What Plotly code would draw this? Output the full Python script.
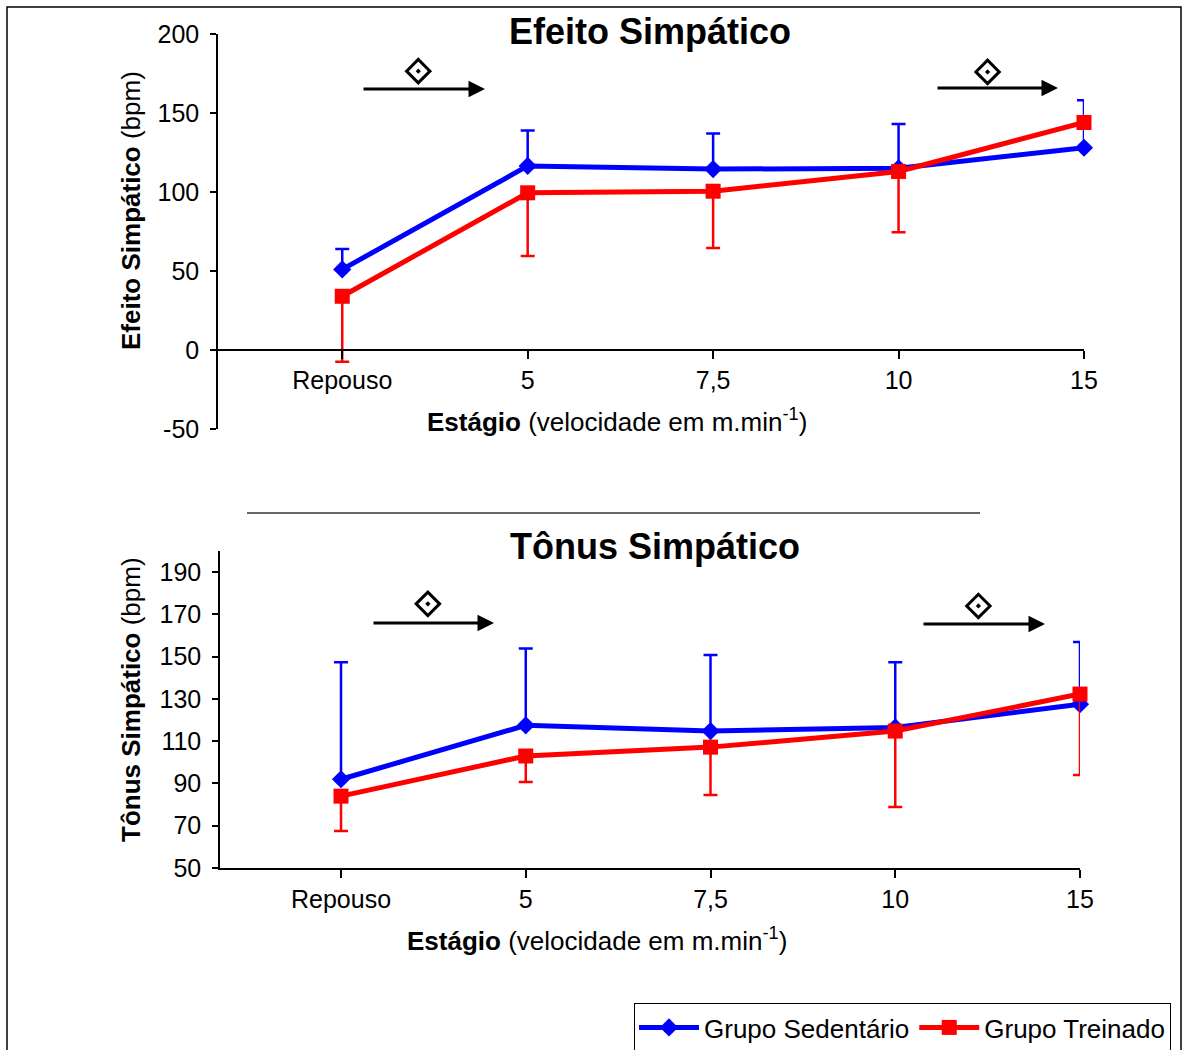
import plotly.graph_objects as go

# ---------------- data ----------------
stages = ["Repouso", "5", "7,5", "10", "15"]
stage_pos = [0, 1, 2, 3, 4]

efeito_sed = [51, 116.5, 114.5, 115, 128]
efeito_sed_err = [13, 22.5, 22.5, 28, 30]
efeito_tre = [34, 99.5, 100.5, 113, 144]
efeito_tre_err = [41.5, 40, 36, 38.5, 0]

tonus_sed = [92, 117.5, 114.8, 116.5, 127.5]
tonus_sed_err = [55.3, 36.4, 36, 30.8, 29.4]
tonus_tre = [84, 103, 107.2, 114.8, 132.3]
tonus_tre_err = [16.5, 12.3, 22.7, 35.9, 38.3]

efeito_ticks = [-50, 0, 50, 100, 150, 200]
efeito_ticktext = ["-50", "0", "50", "100", "150", "200"]
tonus_ticks = [50, 70, 90, 110, 130, 150, 170, 190]

names = ["Grupo Sedentário", "Grupo Treinado"]
BLUE = "#0000FF"
RED = "#FF0000"
FONT = "Liberation Sans, Arial, sans-serif"

W, H = 1184, 1050


def px_x(p):
    return p / W


def px_y(p):
    return (H - p) / H


fig = go.Figure()


def add_series(xa, ya, sed, sed_err, tre, tre_err, show):
    zeros = [0] * len(sed)
    fig.add_trace(go.Scatter(
        x=stage_pos, y=sed, xaxis=xa, yaxis=ya, name=names[0],
        mode="lines+markers", showlegend=show, legendgroup="sed",
        line=dict(color=BLUE, width=5),
        marker=dict(symbol="diamond", size=14, color=BLUE),
        error_y=dict(type="data", symmetric=False, array=sed_err,
                     arrayminus=zeros, color=BLUE, thickness=2.5, width=7),
        cliponaxis=False, hoverinfo="skip"))
    fig.add_trace(go.Scatter(
        x=stage_pos, y=tre, xaxis=xa, yaxis=ya, name=names[1],
        mode="lines+markers", showlegend=show, legendgroup="tre",
        line=dict(color=RED, width=5),
        marker=dict(symbol="square", size=15, color=RED),
        error_y=dict(type="data", symmetric=False, array=zeros,
                     arrayminus=tre_err, color=RED, thickness=2.5, width=7),
        cliponaxis=False, hoverinfo="skip"))


add_series("x", "y", efeito_sed, efeito_sed_err, efeito_tre, efeito_tre_err, True)
add_series("x2", "y2", tonus_sed, tonus_sed_err, tonus_tre, tonus_tre_err, False)

# significance marks placed in each panel's data units
sig_top = dict(x=[0.41, 3.48], y=[176.5, 176])
sig_bot = dict(x=[0.47, 3.45], y=[175, 174])
for xa, ya, s in (("x", "y", sig_top), ("x2", "y2", sig_bot)):
    fig.add_trace(go.Scatter(
        x=s["x"], y=s["y"], xaxis=xa, yaxis=ya, mode="markers",
        showlegend=False, hoverinfo="skip", cliponaxis=False,
        marker=dict(symbol="diamond-open-dot", size=18, color="black",
                    line=dict(color="black", width=3))))

axis_common = dict(showgrid=False, zeroline=False, showline=True,
                   linecolor="black", linewidth=1.5, ticks="outside",
                   tickcolor="black", tickwidth=1.5, automargin=False,
                   tickfont=dict(family=FONT, size=25, color="black"))

fig.update_layout(
    width=W, height=H,
    margin=dict(l=0, r=0, t=0, b=0, autoexpand=False),
    paper_bgcolor="white", plot_bgcolor="white",
    font=dict(family=FONT, color="black"),
    xaxis=dict(domain=[px_x(218), px_x(1084)], range=[-0.67, 4],
               anchor="free", position=px_y(350),
               tickvals=stage_pos, ticktext=stages, ticklen=8,
               **axis_common),
    yaxis=dict(domain=[px_y(429), px_y(34)], range=[-50, 200],
               anchor="x", tickvals=efeito_ticks, ticktext=efeito_ticktext,
               ticklen=6, ticklabelstandoff=6, **axis_common),
    xaxis2=dict(domain=[px_x(220), px_x(1080)], range=[-0.655, 4],
                anchor="y2", tickvals=stage_pos, ticktext=stages, ticklen=8,
                **axis_common),
    yaxis2=dict(domain=[px_y(868), px_y(551)], range=[50, 200],
                anchor="x2", tickvals=tonus_ticks, ticklen=6,
                ticklabelstandoff=6, **axis_common),
    legend=dict(orientation="h", x=px_x(1171), xanchor="right",
                y=px_y(1003), yanchor="top",
                bordercolor="black", borderwidth=1, bgcolor="white",
                font=dict(family=FONT, size=26, color="black"),
                itemwidth=60, tracegroupgap=0),
)

anns = []
# titles
anns.append(dict(text="<b>Efeito Simpático</b>", x=px_x(650), y=px_y(32),
                 font=dict(size=36)))
anns.append(dict(text="<b>Tônus Simpático</b>", x=px_x(655), y=px_y(546),
                 font=dict(size=36)))
# y-axis titles
anns.append(dict(text="<b>Efeito Simpático</b> (bpm)", x=px_x(131), y=px_y(211),
                 textangle=-90, font=dict(size=26)))
anns.append(dict(text="<b>Tônus Simpático</b> (bpm)", x=px_x(131), y=px_y(700),
                 textangle=-90, font=dict(size=26)))
# x-axis titles
xt = "<b>Estágio</b> (velocidade em m.min<sup>-1</sup>)"
anns.append(dict(text=xt, x=px_x(617), y=px_y(420), font=dict(size=26)))
anns.append(dict(text=xt, x=px_x(597), y=px_y(939), font=dict(size=26)))

for a in anns:
    a.update(xref="paper", yref="paper", showarrow=False,
             xanchor="center", yanchor="middle")
    a["font"].update(family=FONT, color="black")

# significance arrows (head x, tail x, y) in page pixels
arrows = [(485, 362, 89), (1058, 936, 88), (494, 372, 623), (1045, 922, 624)]
for hx, tx, yy in arrows:
    anns.append(dict(x=px_x(hx), y=px_y(yy), xref="paper", yref="paper",
                     ax=tx - hx, ay=0, axref="pixel", ayref="pixel",
                     text="", showarrow=True, arrowhead=2, arrowsize=1.1,
                     arrowwidth=3, arrowcolor="black", standoff=0))

fig.update_layout(annotations=anns)

fig.update_layout(shapes=[
    dict(type="rect", xref="paper", yref="paper",
         x0=px_x(7), x1=px_x(1181), y0=-0.05, y1=px_y(7),
         line=dict(color="black", width=1.5), layer="below"),
    dict(type="line", xref="paper", yref="paper",
         x0=px_x(247), x1=px_x(980), y0=px_y(513), y1=px_y(513),
         line=dict(color="#333333", width=1.5)),
])

fig.write_html("out.html")
